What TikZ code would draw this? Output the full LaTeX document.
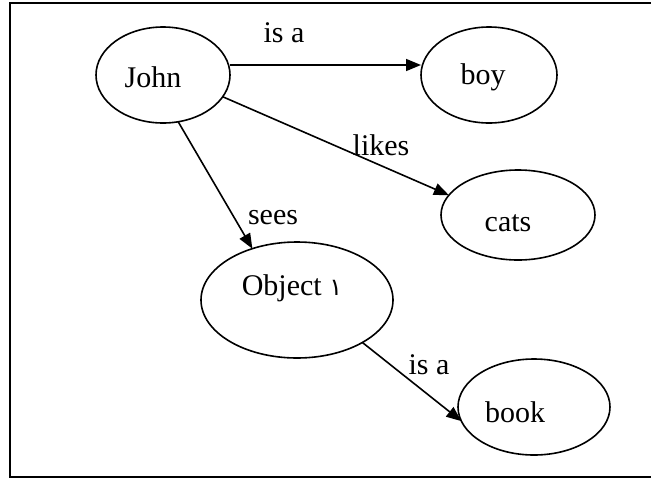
\documentclass[tikz,border=0pt]{standalone}
\usepackage{fontspec}
\setmainfont{Liberation Serif}
\newfontfamily\arabicfont[Script=Arabic]{DejaVu Sans}
\usetikzlibrary{arrows.meta,shapes.geometric}

\tikzset{
    concept/.style={ellipse, draw, line width=1.6pt, inner sep=0pt, outer sep=0pt},
    relation/.style={line width=1.6pt, -{Triangle[length=15pt,width=12pt]}},
    rellabel/.style={inner sep=0pt}
}

\begin{document}
\begin{tikzpicture}[x=1pt,y=-1pt,font=\fontsize{30}{36}\selectfont]
    \useasboundingbox (0,0) rectangle (651,480);
    \draw[line width=1.8pt] (10,3) rectangle (662,477);

    \node[concept, minimum width=134pt, minimum height=96pt,
          label={[xshift=-10pt,yshift=-2pt]center:John}] (john) at (163,75) {};
    \node[concept, minimum width=136pt, minimum height=96pt,
          label={[xshift=-6pt,yshift=-2pt]center:boy}] (boy) at (489,75) {};
    \node[concept, minimum width=154pt, minimum height=90pt,
          label={[xshift=-10pt,yshift=-8pt]center:cats}] (cats) at (518,215) {};
    \node[concept, minimum width=192pt, minimum height=116pt,
          label={[xshift=-5pt,yshift=12pt]center:Object {\arabicfont\fontsize{24}{28}\selectfont ١}}] (object) at (297,300) {};
    \node[concept, minimum width=152pt, minimum height=96pt,
          label={[xshift=-19pt,yshift=-5pt]center:book}] (book) at (534,407) {};

    \draw[relation] ([yshift=10pt]john.east) -- ([yshift=10pt]boy.west);
    \draw[relation] (john.-20) -- (cats.164);
    \draw[relation] (john.-72) -- (object.131);
    \draw[relation] (object.-33) -- (book.191);

    \node[rellabel] (isaboy) at (284,33) {is a};
    \node[rellabel] (likes) at (381,145) {likes};
    \node[rellabel] (sees) at (273,218) {sees};
    \node[rellabel] (isabook) at (429,365) {is a};
\end{tikzpicture}
\end{document}
